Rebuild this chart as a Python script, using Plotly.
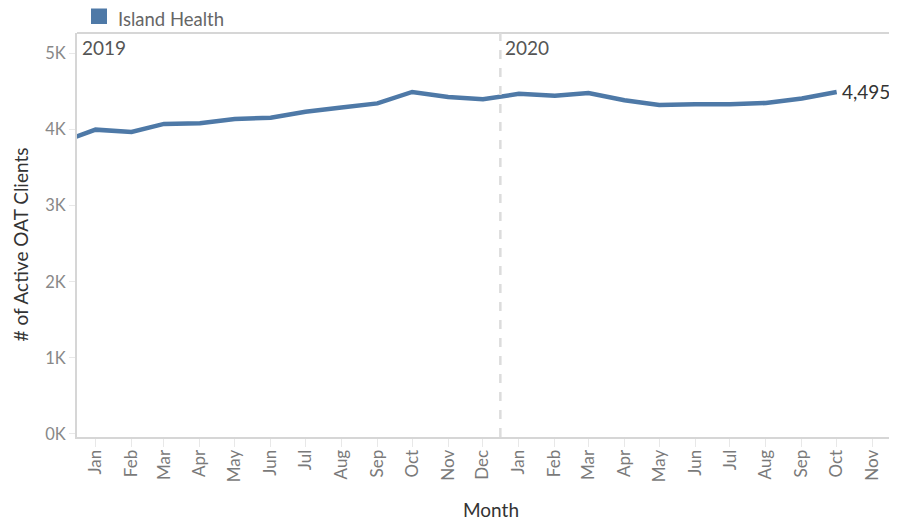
import plotly.graph_objects as go

# ---- data ----
months = ["2018-12-01",
          "2019-01-01", "2019-02-01", "2019-03-01", "2019-04-01", "2019-05-01", "2019-06-01",
          "2019-07-01", "2019-08-01", "2019-09-01", "2019-10-01", "2019-11-01", "2019-12-01",
          "2020-01-01", "2020-02-01", "2020-03-01", "2020-04-01", "2020-05-01", "2020-06-01",
          "2020-07-01", "2020-08-01", "2020-09-01", "2020-10-01"]
clients = [3830,
           4000, 3970, 4075, 4085, 4140, 4155,
           4235, 4290, 4345, 4495, 4430, 4400,
           4470, 4445, 4480, 4385, 4325, 4335,
           4335, 4350, 4410, 4495]
series_name = "Island Health"

tick_dates = ["2019-01-01", "2019-02-01", "2019-03-01", "2019-04-01", "2019-05-01", "2019-06-01",
              "2019-07-01", "2019-08-01", "2019-09-01", "2019-10-01", "2019-11-01", "2019-12-01",
              "2020-01-01", "2020-02-01", "2020-03-01", "2020-04-01", "2020-05-01", "2020-06-01",
              "2020-07-01", "2020-08-01", "2020-09-01", "2020-10-01", "2020-11-01"]
tick_labels = ["Jan", "Feb", "Mar", "Apr", "May", "Jun", "Jul", "Aug", "Sep", "Oct", "Nov", "Dec",
               "Jan", "Feb", "Mar", "Apr", "May", "Jun", "Jul", "Aug", "Sep", "Oct", "Nov"]
y_ticks = [0, 1000, 2000, 3000, 4000, 5000]
y_tick_labels = ["0K", "1K", "2K", "3K", "4K", "5K"]
year_labels = ["2019", "2020"]
year_label_dates = ["2018-12-16", "2019-12-16"]
divider_date = "2019-12-16"
x_range = ["2018-12-16", "2020-11-22"]
y_range = [-40, 5270]

FONT = "Lato"
BLUE = "#4e79a7"
AXIS = "#d6d6d6"

# figure geometry (page body adds an 8px offset)
W, H = 889, 512
L, T, R, B = 69, 25, 0, 83
PW, PH = W - L - R, H - T - B


def px(x):
    return (x - L) / PW


def py(y):
    return (H - B - y) / PH


fig = go.Figure()
fig.add_trace(go.Scatter(
    x=months, y=clients, mode="lines", name=series_name,
    line=dict(color=BLUE, width=4.5), showlegend=False, hoverinfo="x+y",
))

fig.update_layout(
    width=W, height=H,
    margin=dict(l=L, r=R, t=T, b=B, pad=0),
    plot_bgcolor="white", paper_bgcolor="white",
    font=dict(family=FONT, color="#777777"),
    xaxis=dict(
        type="date", range=x_range, tickmode="array",
        tickvals=tick_dates, ticktext=tick_labels, tickangle=-90,
        tickfont=dict(size=17, color="#7a7a7a", family=FONT),
        ticks="outside", ticklen=8, tickcolor="#e8e8e8", tickwidth=1,
        ticklabelstandoff=-4,
        showline=True, linecolor=AXIS, linewidth=2, showgrid=False, zeroline=False,
    ),
    yaxis=dict(
        range=y_range, tickmode="array", tickvals=y_ticks, ticktext=y_tick_labels,
        tickfont=dict(size=16.5, color="#888888", family=FONT),
        ticks="outside", ticklen=6, tickcolor="#e8e8e8", tickwidth=1,
        showline=True, linecolor=AXIS, linewidth=2, showgrid=False, zeroline=False,
    ),
)

# top border
fig.add_shape(type="line", xref="paper", yref="paper", x0=0, x1=1, y0=1, y1=1,
              line=dict(color=AXIS, width=2))
# year divider
fig.add_shape(type="line", xref="x", yref="paper", x0=divider_date, x1=divider_date, y0=0, y1=1,
              line=dict(color="#dcdcdc", width=2.5, dash="dash"))

# year labels
for lbl, d in zip(year_labels, year_label_dates):
    fig.add_annotation(x=d, y=1, xref="x", yref="paper", text=lbl, showarrow=False,
                       xanchor="left", yanchor="top", xshift=3, yshift=-1,
                       font=dict(size=19, color="#555555", family=FONT))

# end label
fig.add_annotation(x=months[-1], y=clients[-1], xref="x", yref="y",
                   text=f"{clients[-1]:,}", showarrow=False, xanchor="left", yanchor="middle",
                   xshift=3, font=dict(size=19, color="#333333", family=FONT))

# legend
fig.add_shape(type="rect", xref="paper", yref="paper",
              x0=px(83), x1=px(99), y0=py(16), y1=py(0.5),
              fillcolor=BLUE, line=dict(width=0))
fig.add_annotation(x=px(108), y=py(11), xref="paper", yref="paper",
                   text=series_name, showarrow=False, xanchor="left", yanchor="middle",
                   font=dict(size=18.5, color="#666666", family=FONT))

# axis titles
fig.add_annotation(x=px(12), y=py(236.5), xref="paper", yref="paper",
                   text="# of Active OAT Clients", textangle=-90, showarrow=False,
                   xanchor="center", yanchor="middle",
                   font=dict(size=19, color="#333333", family=FONT))
fig.add_annotation(x=px(483), y=py(501), xref="paper", yref="paper",
                   text="Month", showarrow=False, xanchor="center", yanchor="middle",
                   font=dict(size=19, color="#333333", family=FONT))

fig.write_html("out.html")
